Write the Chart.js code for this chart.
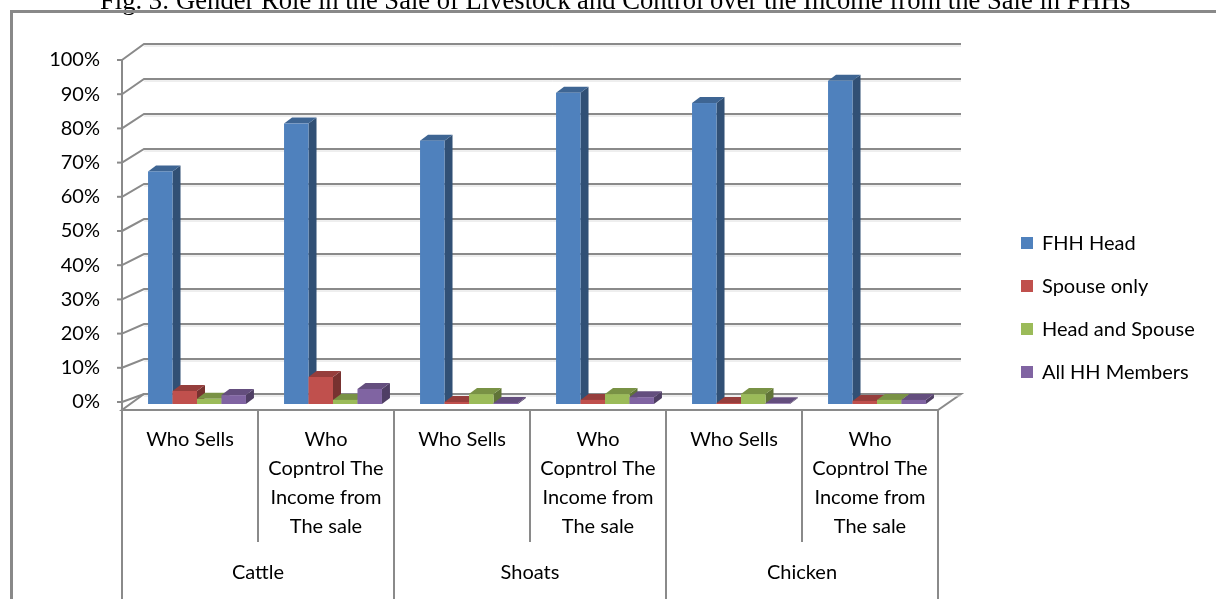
<!DOCTYPE html>
<html>
<head>
<meta charset="utf-8">
<script src="https://cdn.jsdelivr.net/npm/chart.js@4.4.1/dist/chart.umd.min.js"></script>
<style>
  html, body { margin: 0; padding: 0; background: #fff; }
  canvas { display: block; }
</style>
</head>
<body>
<canvas id="livestockChart" width="1216" height="599"></canvas>
<script>
const titleText = 'Fig. 3: Gender Role in the Sale of Livestock and Control over the Income from the Sale in FHHs';

// two rows of categories: role under each animal
const animals = ['Cattle', 'Shoats', 'Chicken'];
const roles = [
    'Who Sells', ['Who', 'Copntrol The', 'Income from', 'The sale'],
    'Who Sells', ['Who', 'Copntrol The', 'Income from', 'The sale'],
    'Who Sells', ['Who', 'Copntrol The', 'Income from', 'The sale']
];

// shares in percent
const fhhHead       = [68, 82, 77, 91, 88, 94.5];
const spouseOnly    = [3.8, 7.9, 0.6, 1.2, 0.3, 0.9];
const headAndSpouse = [1.5, 1.2, 2.9, 2.9, 2.9, 1.2];
const allMembers    = [2.6, 4.4, 0.3, 2.0, 0.2, 1.2];

const yTicks = { min: 0, max: 100, step: 10 };

const labelFont = { family: 'Lato', size: 20, lineHeight: 1.45 };
const lineGray = '#8a8a8a';

function shade(hex, f) {
    const n = parseInt(hex.slice(1), 16);
    const r = Math.round(((n >> 16) & 255) * f);
    const g = Math.round(((n >> 8) & 255) * f);
    const b = Math.round((n & 255) * f);
    return `rgb(${r},${g},${b})`;
}

function poly(ctx, pts, fill) {
    ctx.beginPath();
    ctx.moveTo(pts[0][0], pts[0][1]);
    pts.slice(1).forEach(p => ctx.lineTo(p[0], p[1]));
    ctx.closePath();
    ctx.fillStyle = fill;
    ctx.fill();
}

// walls, floor and box-shaped columns
const columns3d = {
    id: 'columns3d',
    beforeDatasetsDraw(chart) {
        const { ctx, chartArea: area, scales } = chart;
        const y = scales.y;
        const floorY = area.bottom + 8;
        const back = { left: area.left + 22, right: area.right + 23, bottom: area.bottom - 8, top: area.top - 16 };
        const backY = v => back.bottom + (back.top - back.bottom) * v / yTicks.max;

        ctx.save();
        ctx.lineCap = 'butt';

        // floor
        ctx.beginPath();
        ctx.moveTo(area.left, floorY);
        ctx.lineTo(area.right, floorY);
        ctx.lineTo(back.right, back.bottom);
        ctx.lineTo(back.left, back.bottom);
        ctx.closePath();
        ctx.fillStyle = '#fff';
        ctx.fill();
        ctx.strokeStyle = lineGray;
        ctx.lineWidth = 2;
        ctx.stroke();

        // gridlines across side wall and back wall
        y.ticks.forEach(t => {
            const yf = y.getPixelForValue(t.value);
            const yb = backY(t.value);
            ctx.beginPath();
            ctx.moveTo(area.left, yf);
            ctx.lineTo(back.left, yb);
            ctx.lineTo(back.right, yb);
            ctx.strokeStyle = lineGray;
            ctx.lineWidth = 2;
            ctx.stroke();
            ctx.beginPath();
            ctx.moveTo(back.left, yb + 2);
            ctx.lineTo(back.right, yb + 2);
            ctx.strokeStyle = '#dedede';
            ctx.lineWidth = 1;
            ctx.stroke();
            // tick mark on front axis
            ctx.beginPath();
            ctx.moveTo(area.left - 5, yf);
            ctx.lineTo(area.left, yf);
            ctx.strokeStyle = lineGray;
            ctx.lineWidth = 2;
            ctx.stroke();
        });

        // columns: front, right side and top face
        const shift = { x: 7, y: 2 };
        const depth = { x: 8, y: -6 };
        const metas = chart.data.datasets.map((d, i) => chart.getDatasetMeta(i));
        chart.data.labels.forEach((lbl, j) => {
            metas.forEach((meta, i) => {
                const bar = meta.data[j];
                const col = chart.data.datasets[i].backgroundColor;
                const l = bar.x - bar.width / 2 + shift.x;
                const r = bar.x + bar.width / 2 + shift.x;
                const t = bar.y + shift.y;
                const b = bar.base + shift.y;
                poly(ctx, [[r, t], [r + depth.x, t + depth.y], [r + depth.x, b + depth.y], [r, b]], shade(col, 0.62));
                poly(ctx, [[l, t], [l + depth.x, t + depth.y], [r + depth.x, t + depth.y], [r, t]], shade(col, 0.78));
                ctx.fillStyle = col;
                ctx.fillRect(l, t, r - l, b - t);
            });
        });
        ctx.restore();
        return false;
    },
    afterDraw(chart) {
        const { ctx, chartArea: area, scales } = chart;
        const floorY = area.bottom + 8;
        const n = chart.data.labels.length;
        const perGroup = n / animals.length;
        const step = (area.right - area.left) / n;

        ctx.save();
        ctx.strokeStyle = lineGray;
        ctx.lineWidth = 2;

        // front axis line
        ctx.beginPath();
        ctx.moveTo(area.left, scales.y.getPixelForValue(yTicks.max));
        ctx.lineTo(area.left, floorY);
        ctx.stroke();

        // category table under the floor
        ctx.beginPath();
        ctx.moveTo(area.left, floorY);
        ctx.lineTo(area.right, floorY);
        for (let k = 0; k <= n; k++) {
            const x = area.left + k * step;
            ctx.moveTo(x, floorY);
            ctx.lineTo(x, k % perGroup === 0 ? chart.height : scales.group.top);
        }
        ctx.stroke();

        // legend
        ctx.font = `${labelFont.size}px ${labelFont.family}`;
        ctx.textBaseline = 'middle';
        ctx.textAlign = 'left';
        chart.data.datasets.forEach((ds, i) => {
            const cy = 243 + i * 43;
            ctx.fillStyle = ds.backgroundColor;
            ctx.fillRect(1021, cy - 6, 12, 12);
            ctx.fillStyle = '#000';
            ctx.fillText(ds.label, 1042, cy + 1);
        });

        // caption, partly above the frame
        ctx.font = '26.6px "Liberation Serif"';
        ctx.textBaseline = 'alphabetic';
        ctx.fillStyle = '#000';
        ctx.fillText(titleText, 100, 9);

        // outer frame
        ctx.strokeStyle = '#898989';
        ctx.lineWidth = 3;
        ctx.strokeRect(11.5, 11.5, 1400, 800);
        ctx.restore();
    }
};

const ctx = document.getElementById('livestockChart').getContext('2d');
const livestockChart = new Chart(ctx, {
    type: 'bar',
    data: {
        labels: roles,
        datasets: [
            { label: 'FHH Head', data: fhhHead, backgroundColor: '#4F81BD', xAxisID: 'x' },
            { label: 'Spouse only', data: spouseOnly, backgroundColor: '#C0504D', xAxisID: 'x' },
            { label: 'Head and Spouse', data: headAndSpouse, backgroundColor: '#9BBB59', xAxisID: 'x' },
            { label: 'All HH Members', data: allMembers, backgroundColor: '#8064A2', xAxisID: 'x' }
        ]
    },
    options: {
        responsive: false,
        animation: false,
        layout: { padding: { top: 60, right: 278, left: 0, bottom: 0 } },
        datasets: { bar: { categoryPercentage: 0.72, barPercentage: 1 } },
        plugins: {
            legend: { display: false },
            tooltip: { enabled: false }
        },
        scales: {
            x: {
                grid: { display: false, drawTicks: false },
                border: { display: false },
                ticks: { font: labelFont, color: '#000', padding: 23, autoSkip: false, maxRotation: 0 },
                afterFit: s => { s.height = 140; }
            },
            group: {
                type: 'category',
                position: 'bottom',
                labels: animals,
                grid: { display: false, drawTicks: false },
                border: { display: false },
                ticks: { font: labelFont, color: '#000', padding: 16, maxRotation: 0 },
                afterFit: s => { s.height = 57; }
            },
            y: {
                min: yTicks.min,
                max: yTicks.max,
                grid: { display: false, drawTicks: false },
                border: { display: false },
                ticks: {
                    stepSize: yTicks.step,
                    font: labelFont,
                    color: '#000',
                    padding: 22,
                    callback: v => v + '%'
                },
                afterFit: s => { s.width = 122; }
            }
        }
    },
    plugins: [columns3d]
});
</script>
</body>
</html>
